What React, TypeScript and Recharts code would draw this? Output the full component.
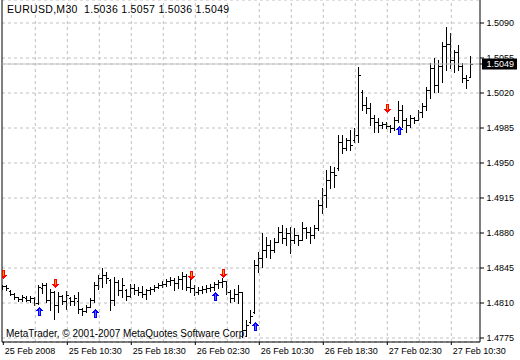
import React from 'react';
import { ComposedChart, Bar, XAxis, YAxis, CartesianGrid, ReferenceLine, Scatter } from 'recharts';

const openP = [
  1.4826,1.4827,1.4822,1.4819,1.4816,1.4814,1.4815,1.4813,1.4815,1.4810,
  1.4825,1.4828,1.4813,1.4821,1.4808,1.4817,1.4812,1.4815,1.4812,1.4812,
  1.4804,1.4802,1.4806,1.4813,1.4828,1.4835,1.4838,1.4833,1.4813,1.4831,
  1.4823,1.4823,1.4817,1.4825,1.4823,1.4821,1.4819,1.4823,1.4824,1.4826,
  1.4828,1.4829,1.4832,1.4833,1.4830,1.4834,1.4837,1.4826,1.4825,1.4821,
  1.4823,1.4824,1.4825,1.4826,1.4829,1.4831,1.4832,1.4821,1.4815,1.4819,
  1.4821,1.4783,1.4791,1.4801,1.4848,1.4855,1.4863,1.4868,1.4863,1.4871,
  1.4881,1.4875,1.4880,1.4873,1.4878,1.4873,1.4885,1.4881,1.4878,1.4885,
  1.4908,1.4918,1.4933,1.4941,1.4945,1.4971,1.4965,1.4973,1.4973,1.4978,
  1.5021,1.5008,1.5005,1.4995,1.4991,1.4988,1.4989,1.4987,1.4985,1.4993,
  1.5003,1.4993,1.4988,1.4995,1.4993,1.5001,1.5007,1.5023,1.5045,1.5028,
  1.5047,1.5067,1.5069,1.5053,1.5061,1.5047,1.5035,1.5036,
];
const highP = [
  1.4828,1.4828,1.4823,1.4820,1.4816,1.4818,1.4817,1.4817,1.4816,1.4828,
  1.4830,1.4830,1.4824,1.4822,1.4821,1.4818,1.4822,1.4816,1.4818,1.4821,
  1.4805,1.4808,1.4815,1.4831,1.4838,1.4845,1.4841,1.4834,1.4836,1.4833,
  1.4835,1.4824,1.4829,1.4829,1.4826,1.4827,1.4824,1.4826,1.4828,1.4830,
  1.4832,1.4834,1.4836,1.4835,1.4837,1.4841,1.4839,1.4834,1.4828,1.4826,
  1.4827,1.4828,1.4829,1.4831,1.4833,1.4835,1.4832,1.4823,1.4824,1.4828,
  1.4821,1.4793,1.4803,1.4853,1.4861,1.4880,1.4876,1.4873,1.4875,1.4886,
  1.4888,1.4885,1.4886,1.4885,1.4878,1.4891,1.4886,1.4886,1.4888,1.4913,
  1.4925,1.4943,1.4947,1.4946,1.4978,1.4978,1.4975,1.4983,1.4985,1.5046,
  1.5023,1.5016,1.5010,1.4998,1.4995,1.4991,1.4991,1.4988,1.4996,1.5012,
  1.5008,1.4995,1.4998,1.4996,1.5003,1.5010,1.5026,1.5050,1.5055,1.5053,
  1.5071,1.5086,1.5080,1.5063,1.5068,1.5050,1.5038,1.5057,
];
const lowP = [
  1.4824,1.4823,1.4818,1.4814,1.4812,1.4812,1.4812,1.4811,1.4808,1.4809,
  1.4820,1.4811,1.4803,1.4794,1.4801,1.4809,1.4804,1.4808,1.4808,1.4800,
  1.4798,1.4801,1.4806,1.4811,1.4824,1.4826,1.4830,1.4803,1.4808,1.4818,
  1.4816,1.4813,1.4816,1.4819,1.4818,1.4816,1.4814,1.4819,1.4822,1.4825,
  1.4826,1.4827,1.4828,1.4823,1.4825,1.4824,1.4823,1.4821,1.4818,1.4819,
  1.4820,1.4821,1.4822,1.4823,1.4825,1.4826,1.4819,1.4811,1.4812,1.4810,
  1.4776,1.4777,1.4790,1.4800,1.4841,1.4846,1.4856,1.4855,1.4861,1.4871,
  1.4870,1.4868,1.4860,1.4870,1.4868,1.4873,1.4875,1.4870,1.4875,1.4883,
  1.4900,1.4906,1.4925,1.4926,1.4943,1.4960,1.4963,1.4963,1.4971,1.4971,
  1.5003,1.5000,1.4988,1.4981,1.4981,1.4985,1.4985,1.4981,1.4983,1.4991,
  1.4986,1.4981,1.4986,1.4990,1.4993,1.4996,1.5003,1.5015,1.5021,1.5021,
  1.5031,1.5043,1.5045,1.5041,1.5043,1.5031,1.5025,1.5036,
];
const closeP = [
  1.4827,1.4825,1.4819,1.4816,1.4814,1.4816,1.4813,1.4815,1.4810,1.4826,
  1.4828,1.4813,1.4821,1.4808,1.4817,1.4812,1.4818,1.4812,1.4815,1.4804,
  1.4802,1.4806,1.4813,1.4828,1.4835,1.4838,1.4835,1.4813,1.4831,1.4823,
  1.4828,1.4817,1.4825,1.4823,1.4821,1.4819,1.4823,1.4824,1.4826,1.4828,
  1.4829,1.4832,1.4833,1.4830,1.4834,1.4837,1.4826,1.4825,1.4821,1.4823,
  1.4824,1.4825,1.4826,1.4829,1.4831,1.4832,1.4821,1.4815,1.4819,1.4821,
  1.4783,1.4788,1.4797,1.4848,1.4855,1.4863,1.4868,1.4863,1.4871,1.4881,
  1.4875,1.4880,1.4873,1.4878,1.4873,1.4885,1.4881,1.4878,1.4885,1.4908,
  1.4918,1.4933,1.4941,1.4938,1.4971,1.4965,1.4973,1.4968,1.4978,1.5038,
  1.5008,1.5005,1.4995,1.4991,1.4988,1.4989,1.4987,1.4985,1.4993,1.5003,
  1.4993,1.4988,1.4995,1.4993,1.5001,1.5007,1.5023,1.5045,1.5028,1.5047,
  1.5067,1.5069,1.5053,1.5061,1.5047,1.5035,1.5033,1.5049,
];

const downArrowIdx = [0, 13, 47, 55, 96];
const downArrowPrice = [1.4838, 1.4829, 1.4837, 1.4839, 1.5004];
const upArrowIdx = [9, 23, 53, 63, 99];
const upArrowPrice = [1.4802, 1.4800, 1.4817, 1.4787, 1.4983];

const yTicks = [1.4775, 1.4810, 1.4845, 1.4880, 1.4915, 1.4950, 1.4985, 1.5020, 1.5055, 1.5090];
const xTickIdx = [0, 16, 32, 48, 64, 80, 96, 112];
const xTickLabels = ['25 Feb 2008', '25 Feb 10:30', '25 Feb 18:30', '26 Feb 02:30', '26 Feb 10:30', '26 Feb 18:30', '27 Feb 02:30', '27 Feb 10:30'];
const gridIdx = [8, 16, 24, 32, 40, 48, 56, 64, 72, 80, 88, 96, 104, 112];

const symbolTitle = 'EURUSD,M30';
const copyright = 'MetaTrader, © 2001-2007 MetaQuotes Software Corp.';

const lastClose = closeP[closeP.length - 1];
const lastBarText = `${symbolTitle}  ${openP[openP.length - 1].toFixed(4)} ${highP[highP.length - 1].toFixed(4)} ${lowP[lowP.length - 1].toFixed(4)} ${lastClose.toFixed(4)}`;

const data = openP.map((o, i) => ({
  i,
  open: o,
  high: highP[i],
  low: lowP[i],
  close: closeP[i],
  range: [lowP[i], highP[i]],
}));
const downArrows = downArrowIdx.map((i, k) => ({ i, p: downArrowPrice[k] }));
const upArrows = upArrowIdx.map((i, k) => ({ i, p: upArrowPrice[k] }));

const FONT = "'Liberation Sans', Arial, sans-serif";

const OHLCShape = (props: any) => {
  const { x, y, width, height, payload } = props;
  if (!payload) return null;
  const cx = Math.floor(x + width / 2) + 0.5;
  const { open, close, high, low } = payload;
  const span = high - low;
  const py = (v: number) => Math.round(span === 0 ? y : y + ((high - v) / span) * height) + 0.5;
  const top = Math.round(y);
  const bot = Math.round(y + height) + 1;
  return (
    <g stroke="#000" strokeWidth={1} shapeRendering="crispEdges">
      <line x1={cx} x2={cx} y1={top} y2={bot} />
      <line x1={cx - 2} x2={cx} y1={py(open)} y2={py(open)} />
      <line x1={cx} x2={cx + 2} y1={py(close)} y2={py(close)} />
    </g>
  );
};

const DownArrow = (props: any) => {
  const { cx, cy } = props;
  if (cx == null || cy == null) return null;
  const x = Math.round(cx);
  const y = Math.round(cy);
  return (
    <g shapeRendering="crispEdges">
      <rect x={x - 1} y={y - 5} width={3} height={6} fill="#FF0000" />
      <polygon points={`${x - 3},${y} ${x + 4},${y} ${x + 0.5},${y + 4.5}`} fill="#FF0000" />
      <rect x={x} y={y - 4} width={1} height={5} fill="#FF9900" />
    </g>
  );
};

const UpArrow = (props: any) => {
  const { cx, cy } = props;
  if (cx == null || cy == null) return null;
  const x = Math.round(cx);
  const y = Math.round(cy);
  return (
    <g shapeRendering="crispEdges">
      <polygon points={`${x - 3},${y} ${x + 4},${y} ${x + 0.5},${y - 4.5}`} fill="#0000FF" />
      <rect x={x - 1} y={y - 1} width={3} height={6} fill="#0000FF" />
      <rect x={x} y={y - 2} width={1} height={6} fill="#6666FF" />
    </g>
  );
};

const XTick = (props: any) => {
  const { x, y, payload } = props;
  const idx = xTickIdx.indexOf(payload.value);
  return (
    <text x={x + 1.5} y={y + 7} fontSize={9} fontFamily={FONT} fill="#000" textAnchor="start">
      {idx >= 0 ? xTickLabels[idx] : ''}
    </text>
  );
};

const YTick = (props: any) => {
  const { x, y, payload } = props;
  const v = payload.value as number;
  if (Math.abs(v - lastClose) < 1e-9) {
    return (
      <g>
        <rect x={x - 4} y={y - 5.5} width={35} height={11} fill="#000" />
        <text x={x + 0.5} y={y + 3.3} fontSize={9} fontFamily={FONT} fill="#fff" textAnchor="start">
          {v.toFixed(4)}
        </text>
      </g>
    );
  }
  return (
    <text x={x + 0.5} y={y + 3.3} fontSize={9} fontFamily={FONT} fill="#000" textAnchor="start">
      {v.toFixed(4)}
    </text>
  );
};

export default function App() {
  return (
    <div style={{ position: 'absolute', left: 0, top: 0, width: 520, height: 360, background: '#fff' }}>
      <ComposedChart
        width={520}
        height={360}
        data={data}
        margin={{ top: 0, right: 0, bottom: 0, left: 2 }}
      >
        <CartesianGrid vertical={false} stroke="#C0C0C0" strokeDasharray="3 3" />
        {gridIdx.map((g) => (
          <ReferenceLine key={g} x={g} stroke="#C0C0C0" strokeDasharray="3 3" />
        ))}
        <XAxis
          type="number"
          dataKey="i"
          domain={[-0.325, 119.175]}
          allowDataOverflow
          ticks={xTickIdx}
          interval={0}
          tick={<XTick />}
          tickSize={3}
          tickLine={{ stroke: '#000' }}
          axisLine={{ stroke: '#000' }}
          height={18}
        />
        <YAxis
          type="number"
          orientation="right"
          domain={[1.4771, 1.5113]}
          allowDataOverflow
          ticks={[...yTicks, lastClose]}
          interval={0}
          tick={<YTick />}
          tickSize={4}
          tickLine={{ stroke: '#000' }}
          axisLine={{ stroke: '#000' }}
          width={40}
        />
        <ReferenceLine x={-0.325} stroke="#000" />
        <ReferenceLine y={lastClose} stroke="#C0C0C0" />
        <Bar dataKey="range" barSize={3} shape={<OHLCShape />} isAnimationActive={false} />
        <Scatter data={downArrows} dataKey="p" shape={<DownArrow />} isAnimationActive={false} />
        <Scatter data={upArrows} dataKey="p" shape={<UpArrow />} isAnimationActive={false} />
      </ComposedChart>
      <div style={{ position: 'absolute', left: 7, top: 4, fontSize: 10.5, lineHeight: '10.5px', letterSpacing: '0.3px', fontFamily: FONT, color: '#000', whiteSpace: 'pre' }}>
        {lastBarText}
      </div>
      <div style={{ position: 'absolute', left: 6, top: 329, fontSize: 10, lineHeight: '10px', fontFamily: FONT, color: '#000', whiteSpace: 'pre' }}>
        {copyright}
      </div>
    </div>
  );
}
